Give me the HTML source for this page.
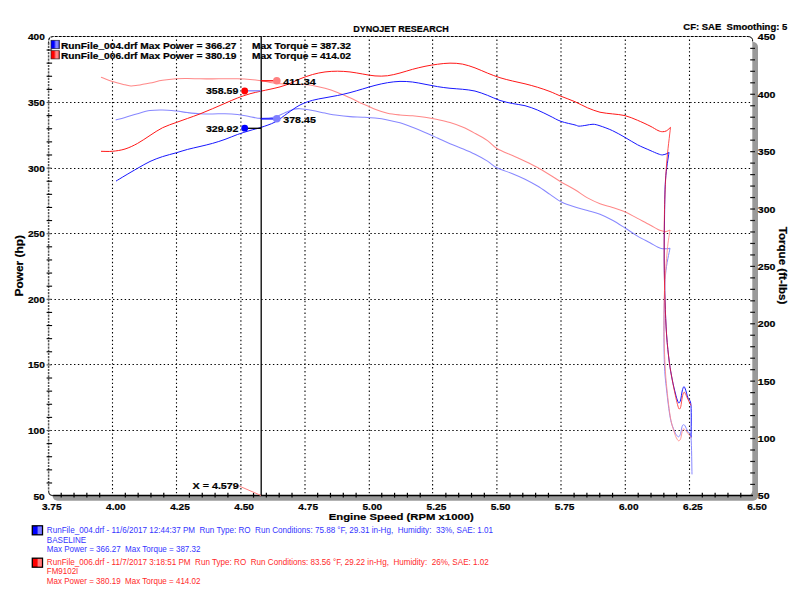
<!DOCTYPE html>
<html><head><meta charset="utf-8"><style>
html,body{margin:0;padding:0;background:#fff;width:800px;height:610px;overflow:hidden}
svg{display:block}
</style></head><body>
<svg width="800" height="610" viewBox="0 0 800 610">
<rect width="800" height="610" fill="#fff"/>
<rect x="52.6" y="42.0" width="705.4" height="458.8" rx="5" fill="#9a9a9a"/>
<rect x="48.6" y="36.5" width="703.7" height="459.1" rx="5" fill="#fff"/>
<line x1="112.50" y1="39.5" x2="112.50" y2="494.6" stroke="#000" stroke-width="1.1" stroke-dasharray="1.4 2.5"/>
<line x1="176.50" y1="39.5" x2="176.50" y2="494.6" stroke="#000" stroke-width="1.1" stroke-dasharray="1.4 2.5"/>
<line x1="240.90" y1="39.5" x2="240.90" y2="494.6" stroke="#000" stroke-width="1.1" stroke-dasharray="1.4 2.5"/>
<line x1="305.00" y1="39.5" x2="305.00" y2="494.6" stroke="#000" stroke-width="1.1" stroke-dasharray="1.4 2.5"/>
<line x1="369.30" y1="39.5" x2="369.30" y2="494.6" stroke="#000" stroke-width="1.1" stroke-dasharray="1.4 2.5"/>
<line x1="432.60" y1="39.5" x2="432.60" y2="494.6" stroke="#000" stroke-width="1.1" stroke-dasharray="1.4 2.5"/>
<line x1="496.90" y1="39.5" x2="496.90" y2="494.6" stroke="#000" stroke-width="1.1" stroke-dasharray="1.4 2.5"/>
<line x1="561.00" y1="39.5" x2="561.00" y2="494.6" stroke="#000" stroke-width="1.1" stroke-dasharray="1.4 2.5"/>
<line x1="625.30" y1="39.5" x2="625.30" y2="494.6" stroke="#000" stroke-width="1.1" stroke-dasharray="1.4 2.5"/>
<line x1="689.50" y1="39.5" x2="689.50" y2="494.6" stroke="#000" stroke-width="1.1" stroke-dasharray="1.4 2.5"/>
<line x1="50.6" y1="102.5" x2="752.0" y2="102.5" stroke="#000" stroke-width="1.1" stroke-dasharray="1.4 2.5"/>
<line x1="50.6" y1="168.5" x2="752.0" y2="168.5" stroke="#000" stroke-width="1.1" stroke-dasharray="1.4 2.5"/>
<line x1="50.6" y1="233.5" x2="752.0" y2="233.5" stroke="#000" stroke-width="1.1" stroke-dasharray="1.4 2.5"/>
<line x1="50.6" y1="299.5" x2="752.0" y2="299.5" stroke="#000" stroke-width="1.1" stroke-dasharray="1.4 2.5"/>
<line x1="50.6" y1="364.5" x2="752.0" y2="364.5" stroke="#000" stroke-width="1.1" stroke-dasharray="1.4 2.5"/>
<line x1="50.6" y1="430.5" x2="752.0" y2="430.5" stroke="#000" stroke-width="1.1" stroke-dasharray="1.4 2.5"/>
<path d="M48.6,44.5 L48.6,41.5 Q48.6,36.5 53.6,36.5 L748.0,36.5" fill="none" stroke="#000" stroke-width="1.1" stroke-dasharray="3 1"/>
<path d="M747.5,36.5 Q753.0,36.5 752.7,41.5" fill="none" stroke="#000" stroke-width="1"/>
<line x1="48.6" y1="42.5" x2="48.6" y2="491.1" stroke="#555" stroke-width="1.5" stroke-dasharray="2.2 1"/>
<path d="M48.6,491.1 Q48.6,495.6 53.1,495.6" fill="none" stroke="#333" stroke-width="1.2"/>
<line x1="53.1" y1="495.6" x2="753.0" y2="495.6" stroke="#000" stroke-width="1.5"/>
<line x1="61.21" y1="492.8" x2="61.21" y2="497.6" stroke="#000" stroke-width="1.2"/>
<line x1="74.03" y1="492.8" x2="74.03" y2="497.6" stroke="#000" stroke-width="1.2"/>
<line x1="86.86" y1="492.8" x2="86.86" y2="497.6" stroke="#000" stroke-width="1.2"/>
<line x1="99.68" y1="492.8" x2="99.68" y2="497.6" stroke="#000" stroke-width="1.2"/>
<line x1="125.32" y1="492.8" x2="125.32" y2="497.6" stroke="#000" stroke-width="1.2"/>
<line x1="138.14" y1="492.8" x2="138.14" y2="497.6" stroke="#000" stroke-width="1.2"/>
<line x1="150.97" y1="492.8" x2="150.97" y2="497.6" stroke="#000" stroke-width="1.2"/>
<line x1="163.79" y1="492.8" x2="163.79" y2="497.6" stroke="#000" stroke-width="1.2"/>
<line x1="189.43" y1="492.8" x2="189.43" y2="497.6" stroke="#000" stroke-width="1.2"/>
<line x1="202.25" y1="492.8" x2="202.25" y2="497.6" stroke="#000" stroke-width="1.2"/>
<line x1="215.08" y1="492.8" x2="215.08" y2="497.6" stroke="#000" stroke-width="1.2"/>
<line x1="227.90" y1="492.8" x2="227.90" y2="497.6" stroke="#000" stroke-width="1.2"/>
<line x1="253.54" y1="492.8" x2="253.54" y2="497.6" stroke="#000" stroke-width="1.2"/>
<line x1="266.36" y1="492.8" x2="266.36" y2="497.6" stroke="#000" stroke-width="1.2"/>
<line x1="279.19" y1="492.8" x2="279.19" y2="497.6" stroke="#000" stroke-width="1.2"/>
<line x1="292.01" y1="492.8" x2="292.01" y2="497.6" stroke="#000" stroke-width="1.2"/>
<line x1="317.65" y1="492.8" x2="317.65" y2="497.6" stroke="#000" stroke-width="1.2"/>
<line x1="330.47" y1="492.8" x2="330.47" y2="497.6" stroke="#000" stroke-width="1.2"/>
<line x1="343.30" y1="492.8" x2="343.30" y2="497.6" stroke="#000" stroke-width="1.2"/>
<line x1="356.12" y1="492.8" x2="356.12" y2="497.6" stroke="#000" stroke-width="1.2"/>
<line x1="381.76" y1="492.8" x2="381.76" y2="497.6" stroke="#000" stroke-width="1.2"/>
<line x1="394.58" y1="492.8" x2="394.58" y2="497.6" stroke="#000" stroke-width="1.2"/>
<line x1="407.41" y1="492.8" x2="407.41" y2="497.6" stroke="#000" stroke-width="1.2"/>
<line x1="420.23" y1="492.8" x2="420.23" y2="497.6" stroke="#000" stroke-width="1.2"/>
<line x1="445.87" y1="492.8" x2="445.87" y2="497.6" stroke="#000" stroke-width="1.2"/>
<line x1="458.69" y1="492.8" x2="458.69" y2="497.6" stroke="#000" stroke-width="1.2"/>
<line x1="471.52" y1="492.8" x2="471.52" y2="497.6" stroke="#000" stroke-width="1.2"/>
<line x1="484.34" y1="492.8" x2="484.34" y2="497.6" stroke="#000" stroke-width="1.2"/>
<line x1="509.98" y1="492.8" x2="509.98" y2="497.6" stroke="#000" stroke-width="1.2"/>
<line x1="522.80" y1="492.8" x2="522.80" y2="497.6" stroke="#000" stroke-width="1.2"/>
<line x1="535.63" y1="492.8" x2="535.63" y2="497.6" stroke="#000" stroke-width="1.2"/>
<line x1="548.45" y1="492.8" x2="548.45" y2="497.6" stroke="#000" stroke-width="1.2"/>
<line x1="574.09" y1="492.8" x2="574.09" y2="497.6" stroke="#000" stroke-width="1.2"/>
<line x1="586.91" y1="492.8" x2="586.91" y2="497.6" stroke="#000" stroke-width="1.2"/>
<line x1="599.74" y1="492.8" x2="599.74" y2="497.6" stroke="#000" stroke-width="1.2"/>
<line x1="612.56" y1="492.8" x2="612.56" y2="497.6" stroke="#000" stroke-width="1.2"/>
<line x1="638.20" y1="492.8" x2="638.20" y2="497.6" stroke="#000" stroke-width="1.2"/>
<line x1="651.02" y1="492.8" x2="651.02" y2="497.6" stroke="#000" stroke-width="1.2"/>
<line x1="663.85" y1="492.8" x2="663.85" y2="497.6" stroke="#000" stroke-width="1.2"/>
<line x1="676.67" y1="492.8" x2="676.67" y2="497.6" stroke="#000" stroke-width="1.2"/>
<line x1="702.31" y1="492.8" x2="702.31" y2="497.6" stroke="#000" stroke-width="1.2"/>
<line x1="715.13" y1="492.8" x2="715.13" y2="497.6" stroke="#000" stroke-width="1.2"/>
<line x1="727.96" y1="492.8" x2="727.96" y2="497.6" stroke="#000" stroke-width="1.2"/>
<line x1="740.78" y1="492.8" x2="740.78" y2="497.6" stroke="#000" stroke-width="1.2"/>
<line x1="46.6" y1="482.98" x2="52.1" y2="482.98" stroke="#000" stroke-width="1.1"/>
<line x1="46.6" y1="469.86" x2="52.1" y2="469.86" stroke="#000" stroke-width="1.1"/>
<line x1="46.6" y1="456.74" x2="52.1" y2="456.74" stroke="#000" stroke-width="1.1"/>
<line x1="46.6" y1="443.62" x2="52.1" y2="443.62" stroke="#000" stroke-width="1.1"/>
<line x1="46.6" y1="430.50" x2="51.6" y2="430.50" stroke="#555" stroke-width="1.1"/>
<line x1="46.6" y1="417.38" x2="52.1" y2="417.38" stroke="#000" stroke-width="1.1"/>
<line x1="46.6" y1="404.26" x2="52.1" y2="404.26" stroke="#000" stroke-width="1.1"/>
<line x1="46.6" y1="391.14" x2="52.1" y2="391.14" stroke="#000" stroke-width="1.1"/>
<line x1="46.6" y1="378.02" x2="52.1" y2="378.02" stroke="#000" stroke-width="1.1"/>
<line x1="46.6" y1="364.90" x2="51.6" y2="364.90" stroke="#555" stroke-width="1.1"/>
<line x1="46.6" y1="351.78" x2="52.1" y2="351.78" stroke="#000" stroke-width="1.1"/>
<line x1="46.6" y1="338.66" x2="52.1" y2="338.66" stroke="#000" stroke-width="1.1"/>
<line x1="46.6" y1="325.54" x2="52.1" y2="325.54" stroke="#000" stroke-width="1.1"/>
<line x1="46.6" y1="312.42" x2="52.1" y2="312.42" stroke="#000" stroke-width="1.1"/>
<line x1="46.6" y1="299.30" x2="51.6" y2="299.30" stroke="#555" stroke-width="1.1"/>
<line x1="46.6" y1="286.18" x2="52.1" y2="286.18" stroke="#000" stroke-width="1.1"/>
<line x1="46.6" y1="273.06" x2="52.1" y2="273.06" stroke="#000" stroke-width="1.1"/>
<line x1="46.6" y1="259.94" x2="52.1" y2="259.94" stroke="#000" stroke-width="1.1"/>
<line x1="46.6" y1="246.82" x2="52.1" y2="246.82" stroke="#000" stroke-width="1.1"/>
<line x1="46.6" y1="233.70" x2="51.6" y2="233.70" stroke="#555" stroke-width="1.1"/>
<line x1="46.6" y1="220.58" x2="52.1" y2="220.58" stroke="#000" stroke-width="1.1"/>
<line x1="46.6" y1="207.46" x2="52.1" y2="207.46" stroke="#000" stroke-width="1.1"/>
<line x1="46.6" y1="194.34" x2="52.1" y2="194.34" stroke="#000" stroke-width="1.1"/>
<line x1="46.6" y1="181.22" x2="52.1" y2="181.22" stroke="#000" stroke-width="1.1"/>
<line x1="46.6" y1="168.10" x2="51.6" y2="168.10" stroke="#555" stroke-width="1.1"/>
<line x1="46.6" y1="154.98" x2="52.1" y2="154.98" stroke="#000" stroke-width="1.1"/>
<line x1="46.6" y1="141.86" x2="52.1" y2="141.86" stroke="#000" stroke-width="1.1"/>
<line x1="46.6" y1="128.74" x2="52.1" y2="128.74" stroke="#000" stroke-width="1.1"/>
<line x1="46.6" y1="115.62" x2="52.1" y2="115.62" stroke="#000" stroke-width="1.1"/>
<line x1="46.6" y1="102.50" x2="51.6" y2="102.50" stroke="#555" stroke-width="1.1"/>
<line x1="46.6" y1="89.38" x2="52.1" y2="89.38" stroke="#000" stroke-width="1.1"/>
<line x1="46.6" y1="76.26" x2="52.1" y2="76.26" stroke="#000" stroke-width="1.1"/>
<line x1="46.6" y1="63.14" x2="52.1" y2="63.14" stroke="#000" stroke-width="1.1"/>
<line x1="46.6" y1="50.02" x2="52.1" y2="50.02" stroke="#000" stroke-width="1.1"/>
<line x1="750.2" y1="484.42" x2="755.0" y2="484.42" stroke="#1a1a1a" stroke-width="1.2"/>
<line x1="750.2" y1="472.95" x2="755.0" y2="472.95" stroke="#1a1a1a" stroke-width="1.2"/>
<line x1="750.2" y1="461.47" x2="755.0" y2="461.47" stroke="#1a1a1a" stroke-width="1.2"/>
<line x1="750.2" y1="450.00" x2="755.0" y2="450.00" stroke="#1a1a1a" stroke-width="1.2"/>
<line x1="750.2" y1="438.52" x2="755.0" y2="438.52" stroke="#1a1a1a" stroke-width="1.2"/>
<line x1="750.2" y1="427.05" x2="755.0" y2="427.05" stroke="#1a1a1a" stroke-width="1.2"/>
<line x1="750.2" y1="415.57" x2="755.0" y2="415.57" stroke="#1a1a1a" stroke-width="1.2"/>
<line x1="750.2" y1="404.10" x2="755.0" y2="404.10" stroke="#1a1a1a" stroke-width="1.2"/>
<line x1="750.2" y1="392.62" x2="755.0" y2="392.62" stroke="#1a1a1a" stroke-width="1.2"/>
<line x1="750.2" y1="381.15" x2="755.0" y2="381.15" stroke="#1a1a1a" stroke-width="1.2"/>
<line x1="750.2" y1="369.67" x2="755.0" y2="369.67" stroke="#1a1a1a" stroke-width="1.2"/>
<line x1="750.2" y1="358.20" x2="755.0" y2="358.20" stroke="#1a1a1a" stroke-width="1.2"/>
<line x1="750.2" y1="346.72" x2="755.0" y2="346.72" stroke="#1a1a1a" stroke-width="1.2"/>
<line x1="750.2" y1="335.25" x2="755.0" y2="335.25" stroke="#1a1a1a" stroke-width="1.2"/>
<line x1="750.2" y1="323.77" x2="755.0" y2="323.77" stroke="#1a1a1a" stroke-width="1.2"/>
<line x1="750.2" y1="312.30" x2="755.0" y2="312.30" stroke="#1a1a1a" stroke-width="1.2"/>
<line x1="750.2" y1="300.82" x2="755.0" y2="300.82" stroke="#1a1a1a" stroke-width="1.2"/>
<line x1="750.2" y1="289.35" x2="755.0" y2="289.35" stroke="#1a1a1a" stroke-width="1.2"/>
<line x1="750.2" y1="277.88" x2="755.0" y2="277.88" stroke="#1a1a1a" stroke-width="1.2"/>
<line x1="750.2" y1="266.40" x2="755.0" y2="266.40" stroke="#1a1a1a" stroke-width="1.2"/>
<line x1="750.2" y1="254.93" x2="755.0" y2="254.93" stroke="#1a1a1a" stroke-width="1.2"/>
<line x1="750.2" y1="243.45" x2="755.0" y2="243.45" stroke="#1a1a1a" stroke-width="1.2"/>
<line x1="750.2" y1="231.97" x2="755.0" y2="231.97" stroke="#1a1a1a" stroke-width="1.2"/>
<line x1="750.2" y1="220.50" x2="755.0" y2="220.50" stroke="#1a1a1a" stroke-width="1.2"/>
<line x1="750.2" y1="209.03" x2="755.0" y2="209.03" stroke="#1a1a1a" stroke-width="1.2"/>
<line x1="750.2" y1="197.55" x2="755.0" y2="197.55" stroke="#1a1a1a" stroke-width="1.2"/>
<line x1="750.2" y1="186.07" x2="755.0" y2="186.07" stroke="#1a1a1a" stroke-width="1.2"/>
<line x1="750.2" y1="174.60" x2="755.0" y2="174.60" stroke="#1a1a1a" stroke-width="1.2"/>
<line x1="750.2" y1="163.12" x2="755.0" y2="163.12" stroke="#1a1a1a" stroke-width="1.2"/>
<line x1="750.2" y1="151.65" x2="755.0" y2="151.65" stroke="#1a1a1a" stroke-width="1.2"/>
<line x1="750.2" y1="140.17" x2="755.0" y2="140.17" stroke="#1a1a1a" stroke-width="1.2"/>
<line x1="750.2" y1="128.70" x2="755.0" y2="128.70" stroke="#1a1a1a" stroke-width="1.2"/>
<line x1="750.2" y1="117.22" x2="755.0" y2="117.22" stroke="#1a1a1a" stroke-width="1.2"/>
<line x1="750.2" y1="105.75" x2="755.0" y2="105.75" stroke="#1a1a1a" stroke-width="1.2"/>
<line x1="750.2" y1="94.28" x2="755.0" y2="94.28" stroke="#1a1a1a" stroke-width="1.2"/>
<line x1="750.2" y1="82.80" x2="755.0" y2="82.80" stroke="#1a1a1a" stroke-width="1.2"/>
<line x1="750.2" y1="71.32" x2="755.0" y2="71.32" stroke="#1a1a1a" stroke-width="1.2"/>
<line x1="750.2" y1="59.85" x2="755.0" y2="59.85" stroke="#1a1a1a" stroke-width="1.2"/>
<line x1="750.2" y1="48.38" x2="755.0" y2="48.38" stroke="#1a1a1a" stroke-width="1.2"/>
<path d="M101.00,77.20 C102.92,77.93 108.50,80.31 112.50,81.58 C116.50,82.84 121.92,84.06 125.00,84.80 C128.08,85.54 128.92,85.94 131.00,86.03 C133.08,86.11 134.33,85.80 137.50,85.30 C140.67,84.80 145.83,83.83 150.00,83.00 C154.17,82.17 158.17,81.03 162.50,80.33 C166.83,79.62 171.83,79.09 176.00,78.80 C180.17,78.51 183.50,78.57 187.50,78.58 C191.50,78.58 195.83,78.78 200.00,78.83 C204.17,78.88 208.33,78.89 212.50,78.88 C216.67,78.86 220.83,78.76 225.00,78.75 C229.17,78.74 233.33,78.71 237.50,78.83 C241.67,78.94 246.08,79.11 250.00,79.43 C253.92,79.74 257.67,80.23 261.00,80.72 C264.33,81.22 266.83,81.90 270.00,82.40 C273.17,82.90 276.67,83.44 280.00,83.75 C283.33,84.06 286.67,84.15 290.00,84.25 C293.33,84.35 296.25,84.12 300.00,84.33 C303.75,84.53 308.33,84.79 312.50,85.45 C316.67,86.11 320.83,87.11 325.00,88.28 C329.17,89.44 333.33,90.86 337.50,92.45 C341.67,94.04 345.83,95.92 350.00,97.80 C354.17,99.67 358.33,101.80 362.50,103.70 C366.67,105.60 370.83,107.64 375.00,109.22 C379.17,110.81 383.33,112.24 387.50,113.20 C391.67,114.16 395.83,114.54 400.00,114.97 C404.17,115.41 408.33,115.42 412.50,115.80 C416.67,116.18 420.83,116.65 425.00,117.28 C429.17,117.90 433.33,118.69 437.50,119.57 C441.67,120.46 445.83,121.32 450.00,122.57 C454.17,123.82 458.33,125.28 462.50,127.08 C466.67,128.87 470.83,131.09 475.00,133.35 C479.17,135.61 483.85,138.13 487.50,140.65 C491.15,143.17 492.73,145.96 496.90,148.45 C501.07,150.94 507.82,153.46 512.50,155.60 C517.18,157.74 520.83,159.28 525.00,161.28 C529.17,163.27 533.33,165.27 537.50,167.55 C541.67,169.83 546.08,172.55 550.00,174.95 C553.92,177.35 556.83,179.48 561.00,181.95 C565.17,184.42 570.58,187.12 575.00,189.78 C579.42,192.43 583.33,195.58 587.50,197.90 C591.67,200.22 595.83,202.09 600.00,203.68 C604.17,205.26 608.33,206.07 612.50,207.43 C616.67,208.78 620.83,209.97 625.00,211.80 C629.17,213.63 633.33,216.20 637.50,218.40 C641.67,220.60 646.58,223.12 650.00,224.97 C653.42,226.82 655.92,228.50 658.00,229.50 C660.08,230.50 661.17,230.65 662.50,231.00 C663.83,231.35 664.75,231.77 666.00,231.60 C667.25,231.43 669.33,230.27 670.00,230.00" fill="none" stroke="#ff8888" stroke-width="1.05" stroke-opacity="1" stroke-linejoin="round"/>
<path d="M115.70,119.90 C117.25,119.50 121.37,118.54 125.00,117.50 C128.63,116.46 133.33,114.81 137.50,113.65 C141.67,112.49 145.83,111.14 150.00,110.53 C154.17,109.91 158.10,109.88 162.50,109.97 C166.90,110.07 172.23,110.64 176.40,111.07 C180.57,111.51 183.57,112.12 187.50,112.58 C191.43,113.03 195.83,113.54 200.00,113.77 C204.17,114.01 208.33,114.01 212.50,114.00 C216.67,113.99 220.83,113.62 225.00,113.70 C229.17,113.78 233.33,114.00 237.50,114.50 C241.67,115.00 246.08,116.05 250.00,116.70 C253.92,117.35 256.83,118.33 261.00,118.38 C265.17,118.42 271.00,117.95 275.00,117.00 C279.00,116.05 281.83,114.00 285.00,112.70 C288.17,111.40 291.50,109.84 294.00,109.18 C296.50,108.51 296.92,108.48 300.00,108.70 C303.08,108.92 308.33,109.77 312.50,110.50 C316.67,111.23 320.83,112.30 325.00,113.10 C329.17,113.90 333.33,114.74 337.50,115.33 C341.67,115.91 345.83,116.32 350.00,116.62 C354.17,116.93 358.33,116.93 362.50,117.17 C366.67,117.42 370.83,117.62 375.00,118.07 C379.17,118.53 383.33,119.10 387.50,119.90 C391.67,120.70 395.83,121.62 400.00,122.85 C404.17,124.08 408.33,125.68 412.50,127.28 C416.67,128.87 420.83,130.63 425.00,132.43 C429.17,134.22 433.33,136.14 437.50,138.03 C441.67,139.91 445.83,141.97 450.00,143.75 C454.17,145.53 458.33,146.96 462.50,148.72 C466.67,150.49 470.83,152.25 475.00,154.32 C479.17,156.40 483.85,158.91 487.50,161.15 C491.15,163.39 492.73,165.69 496.90,167.77 C501.07,169.86 507.82,171.77 512.50,173.68 C517.18,175.58 520.83,177.16 525.00,179.22 C529.17,181.29 533.33,183.56 537.50,186.07 C541.67,188.59 546.08,191.71 550.00,194.32 C553.92,196.94 556.83,199.62 561.00,201.75 C565.17,203.88 570.58,205.67 575.00,207.12 C579.42,208.58 583.33,209.32 587.50,210.50 C591.67,211.68 595.83,212.55 600.00,214.18 C604.17,215.80 608.33,217.95 612.50,220.25 C616.67,222.55 620.83,225.33 625.00,227.97 C629.17,230.62 633.33,233.63 637.50,236.10 C641.67,238.58 646.58,240.97 650.00,242.82 C653.42,244.67 655.92,246.22 658.00,247.20 C660.08,248.18 660.83,248.45 662.50,248.70 C664.17,248.95 666.75,248.78 668.00,248.70 C669.25,248.62 669.67,248.28 670.00,248.20" fill="none" stroke="#8888ff" stroke-width="1.05" stroke-opacity="1" stroke-linejoin="round"/>
<path d="M101.00,151.30 C102.92,151.30 108.50,151.65 112.50,151.28 C116.50,150.90 120.83,150.33 125.00,149.02 C129.17,147.72 133.33,145.71 137.50,143.45 C141.67,141.19 145.83,138.07 150.00,135.45 C154.17,132.83 158.10,129.92 162.50,127.75 C166.90,125.58 172.23,123.98 176.40,122.43 C180.57,120.88 183.57,119.87 187.50,118.45 C191.43,117.03 195.83,115.52 200.00,113.90 C204.17,112.28 208.33,110.49 212.50,108.72 C216.67,106.96 220.83,105.12 225.00,103.32 C229.17,101.53 233.33,99.57 237.50,97.97 C241.67,96.38 246.08,94.88 250.00,93.75 C253.92,92.62 257.67,91.92 261.00,91.17 C264.33,90.42 266.83,89.97 270.00,89.25 C273.17,88.53 276.67,87.84 280.00,86.88 C283.33,85.91 286.67,84.78 290.00,83.45 C293.33,82.12 296.25,80.36 300.00,78.88 C303.75,77.39 308.33,75.68 312.50,74.53 C316.67,73.37 320.83,72.50 325.00,71.95 C329.17,71.40 333.33,71.20 337.50,71.20 C341.67,71.20 345.83,71.49 350.00,71.95 C354.17,72.41 358.33,73.31 362.50,73.97 C366.67,74.64 370.83,75.63 375.00,75.92 C379.17,76.22 383.33,76.24 387.50,75.75 C391.67,75.26 395.83,74.07 400.00,73.00 C404.17,71.93 408.33,70.44 412.50,69.32 C416.67,68.21 420.83,67.17 425.00,66.32 C429.17,65.48 433.33,64.78 437.50,64.25 C441.67,63.72 445.83,63.17 450.00,63.15 C454.17,63.12 458.33,63.31 462.50,64.10 C466.67,64.89 470.83,66.37 475.00,67.88 C479.17,69.38 483.33,71.48 487.50,73.12 C491.67,74.77 495.83,76.41 500.00,77.72 C504.17,79.04 508.33,79.98 512.50,81.00 C516.67,82.02 520.83,82.78 525.00,83.82 C529.17,84.87 533.33,85.97 537.50,87.25 C541.67,88.53 546.08,90.03 550.00,91.53 C553.92,93.03 556.83,94.55 561.00,96.25 C565.17,97.95 570.58,99.80 575.00,101.72 C579.42,103.65 583.33,106.05 587.50,107.80 C591.67,109.55 595.83,111.21 600.00,112.23 C604.17,113.24 608.33,113.33 612.50,113.90 C616.67,114.47 620.83,114.56 625.00,115.62 C629.17,116.69 633.33,118.54 637.50,120.27 C641.67,122.01 646.58,124.32 650.00,126.03 C653.42,127.73 655.92,129.55 658.00,130.50 C660.08,131.45 661.08,131.65 662.50,131.70 C663.92,131.75 665.17,131.52 666.50,130.80 C667.83,130.08 669.83,127.97 670.50,127.40" fill="none" stroke="#ff1818" stroke-width="1.0" stroke-opacity="1" stroke-linejoin="round"/>
<path d="M116.00,181.10 C117.50,180.19 121.42,177.78 125.00,175.65 C128.58,173.53 133.33,170.71 137.50,168.35 C141.67,165.99 145.83,163.43 150.00,161.48 C154.17,159.52 158.10,158.08 162.50,156.62 C166.90,155.17 172.23,153.95 176.40,152.75 C180.57,151.55 183.57,150.47 187.50,149.43 C191.43,148.38 195.83,147.48 200.00,146.47 C204.17,145.47 208.33,144.56 212.50,143.38 C216.67,142.19 220.83,140.85 225.00,139.38 C229.17,137.90 233.33,135.98 237.50,134.50 C241.67,133.02 246.08,131.68 250.00,130.50 C253.92,129.32 256.83,128.81 261.00,127.40 C265.17,125.99 270.58,124.40 275.00,122.05 C279.42,119.70 283.33,116.12 287.50,113.28 C291.67,110.43 295.83,107.16 300.00,105.00 C304.17,102.84 308.33,101.53 312.50,100.33 C316.67,99.12 320.83,98.60 325.00,97.80 C329.17,97.00 333.33,96.36 337.50,95.50 C341.67,94.64 345.83,93.71 350.00,92.62 C354.17,91.54 358.33,90.20 362.50,89.00 C366.67,87.80 370.83,86.45 375.00,85.40 C379.17,84.35 383.33,83.37 387.50,82.70 C391.67,82.03 395.83,81.51 400.00,81.40 C404.17,81.29 408.33,81.55 412.50,82.03 C416.67,82.50 420.83,83.48 425.00,84.25 C429.17,85.02 433.33,85.95 437.50,86.62 C441.67,87.30 445.83,87.83 450.00,88.27 C454.17,88.72 458.33,88.81 462.50,89.28 C466.67,89.74 470.83,90.04 475.00,91.05 C479.17,92.06 483.33,93.75 487.50,95.32 C491.67,96.90 495.83,99.11 500.00,100.47 C504.17,101.84 508.33,102.65 512.50,103.52 C516.67,104.40 520.83,104.61 525.00,105.70 C529.17,106.79 533.33,108.33 537.50,110.05 C541.67,111.77 546.08,114.14 550.00,116.03 C553.92,117.91 556.83,119.89 561.00,121.38 C565.17,122.86 572.00,124.15 575.00,124.95 C578.00,125.75 577.17,126.09 579.00,126.15 C580.83,126.21 583.67,125.62 586.00,125.30 C588.33,124.98 590.67,124.16 593.00,124.25 C595.33,124.34 596.75,124.76 600.00,125.83 C603.25,126.89 608.33,128.72 612.50,130.65 C616.67,132.58 620.83,135.05 625.00,137.40 C629.17,139.75 633.33,142.59 637.50,144.75 C641.67,146.91 646.58,148.87 650.00,150.38 C653.42,151.88 655.92,153.05 658.00,153.80 C660.08,154.55 661.00,154.93 662.50,154.90 C664.00,154.87 665.92,154.03 667.00,153.60 C668.08,153.17 668.67,152.52 669.00,152.30" fill="none" stroke="#1818ff" stroke-width="1.0" stroke-opacity="1" stroke-linejoin="round"/>
<path d="M670.00,248.20 C669.25,252.67 666.50,263.03 665.50,275.00 C664.50,286.97 664.18,305.17 664.00,320.00 C663.82,334.83 663.97,352.33 664.40,364.00 C664.83,375.67 665.62,381.00 666.60,390.00 C667.58,399.00 669.03,411.25 670.30,418.00 C671.57,424.75 673.12,427.58 674.20,430.50 C675.28,433.42 676.02,434.47 676.80,435.50 C677.58,436.53 678.27,437.03 678.90,436.70 C679.53,436.37 680.07,435.20 680.60,433.50 C681.13,431.80 681.63,427.96 682.10,426.50 C682.57,425.04 682.92,424.87 683.40,424.75 C683.88,424.63 684.23,424.59 685.00,425.80 C685.77,427.01 687.00,430.05 688.00,432.00 C689.00,433.95 690.33,430.43 691.00,437.50 C691.67,444.57 691.83,468.25 692.00,474.40" fill="none" stroke="#8888ff" stroke-width="1.0" stroke-opacity="1" stroke-linejoin="round"/>
<path d="M669.00,152.30 C668.42,156.92 666.25,168.72 665.50,180.00 C664.75,191.28 664.72,206.67 664.50,220.00 C664.28,233.33 664.12,246.67 664.20,260.00 C664.28,273.33 664.60,287.50 665.00,300.00 C665.40,312.50 665.88,324.67 666.60,335.00 C667.32,345.33 668.35,354.50 669.30,362.00 C670.25,369.50 671.30,374.83 672.30,380.00 C673.30,385.17 674.47,389.67 675.30,393.00 C676.13,396.33 676.70,398.33 677.30,400.00 C677.90,401.67 678.35,403.00 678.90,403.00 C679.45,403.00 680.05,402.00 680.60,400.00 C681.15,398.00 681.67,393.20 682.20,391.00 C682.73,388.80 683.28,387.13 683.80,386.80 C684.32,386.47 684.60,387.13 685.30,389.00 C686.00,390.87 687.05,395.25 688.00,398.00 C688.95,400.75 690.48,398.92 691.00,405.50 C691.52,412.08 691.08,432.17 691.10,437.50" fill="none" stroke="#1818ff" stroke-width="1.0" stroke-opacity="1" stroke-linejoin="round"/>
<path d="M670.00,230.00 C669.55,233.33 668.22,240.00 667.30,250.00 C666.38,260.00 665.05,276.67 664.50,290.00 C663.95,303.33 663.92,317.67 664.00,330.00 C664.08,342.33 664.50,354.00 665.00,364.00 C665.50,374.00 666.08,381.00 667.00,390.00 C667.92,399.00 669.25,410.83 670.50,418.00 C671.75,425.17 673.42,429.50 674.50,433.00 C675.58,436.50 676.27,437.70 677.00,439.00 C677.73,440.30 678.28,440.88 678.90,440.80 C679.52,440.72 680.15,440.05 680.70,438.50 C681.25,436.95 681.75,433.08 682.20,431.50 C682.65,429.92 682.93,429.28 683.40,429.00 C683.87,428.72 684.23,429.05 685.00,429.80 C685.77,430.55 687.00,432.22 688.00,433.50 C689.00,434.78 690.50,436.83 691.00,437.50" fill="none" stroke="#ff8888" stroke-width="1.0" stroke-opacity="0.85" stroke-linejoin="round"/>
<path d="M670.50,127.40 C669.83,133.67 667.50,151.23 666.50,165.00 C665.50,178.77 664.88,194.17 664.50,210.00 C664.12,225.83 664.12,245.00 664.20,260.00 C664.28,275.00 664.60,287.50 665.00,300.00 C665.40,312.50 665.88,324.67 666.60,335.00 C667.32,345.33 668.35,354.50 669.30,362.00 C670.25,369.50 671.30,374.50 672.30,380.00 C673.30,385.50 674.43,390.92 675.30,395.00 C676.17,399.08 676.85,402.17 677.50,404.50 C678.15,406.83 678.65,408.67 679.20,409.00 C679.75,409.33 680.28,408.50 680.80,406.50 C681.32,404.50 681.80,399.33 682.30,397.00 C682.80,394.67 683.30,393.08 683.80,392.50 C684.30,391.92 684.60,392.33 685.30,393.50 C686.00,394.67 687.05,397.50 688.00,399.50 C688.95,401.50 690.50,404.50 691.00,405.50" fill="none" stroke="#ff1818" stroke-width="1.0" stroke-opacity="0.75" stroke-linejoin="round"/>
<line x1="261.2" y1="36.5" x2="261.2" y2="495.6" stroke="#000" stroke-width="1.3"/>
<line x1="238" y1="485.5" x2="261" y2="495.5" stroke="#ff8080" stroke-width="1"/>
<line x1="245" y1="90.8" x2="261" y2="90.8" stroke="#8080ff" stroke-width="1.3"/>
<line x1="245" y1="128.3" x2="261" y2="128.3" stroke="#000" stroke-width="1.3"/>
<line x1="261" y1="80.8" x2="277" y2="80.8" stroke="#ff0000" stroke-width="1.3"/>
<line x1="261" y1="118.9" x2="277" y2="118.9" stroke="#0000ff" stroke-width="1.3"/>
<circle cx="244.7" cy="91" r="3.4" fill="#ff0000"/>
<circle cx="244.7" cy="128.2" r="3.4" fill="#0000ff"/>
<circle cx="276.8" cy="80.8" r="3.8" fill="#ff8080"/>
<circle cx="276.8" cy="118.8" r="3.8" fill="#8080ff"/>
<text x="206.00" y="94.40" font-family="Liberation Sans" font-weight="bold" font-size="9.8" fill="#000" stroke="#000" stroke-width="0.2" text-anchor="start" textLength="32.3" lengthAdjust="spacingAndGlyphs" >358.59</text>
<text x="206.00" y="132.40" font-family="Liberation Sans" font-weight="bold" font-size="9.8" fill="#000" stroke="#000" stroke-width="0.2" text-anchor="start" textLength="32.3" lengthAdjust="spacingAndGlyphs" >329.92</text>
<text x="283.30" y="85.00" font-family="Liberation Sans" font-weight="bold" font-size="9.8" fill="#000" stroke="#000" stroke-width="0.2" text-anchor="start" textLength="32.5" lengthAdjust="spacingAndGlyphs" >411.34</text>
<text x="283.30" y="122.80" font-family="Liberation Sans" font-weight="bold" font-size="9.8" fill="#000" stroke="#000" stroke-width="0.2" text-anchor="start" textLength="32.5" lengthAdjust="spacingAndGlyphs" >378.45</text>
<text x="192.50" y="488.60" font-family="Liberation Sans" font-weight="bold" font-size="9.5" fill="#000" stroke="#000" stroke-width="0.2" text-anchor="start" textLength="46.3" lengthAdjust="spacingAndGlyphs" >X = 4.579</text>
<text x="353.30" y="32.20" font-family="Liberation Sans" font-weight="bold" font-size="9.4" fill="#000" stroke="#000" stroke-width="0.2" text-anchor="start" textLength="95.5" lengthAdjust="spacingAndGlyphs" >DYNOJET RESEARCH</text>
<text x="683.30" y="30.10" font-family="Liberation Sans" font-weight="bold" font-size="9.2" fill="#000" stroke="#000" stroke-width="0.2" text-anchor="start" textLength="104.0" lengthAdjust="spacingAndGlyphs" >CF: SAE&#160;&#160;Smoothing: 5</text>
<defs><linearGradient id="gb" x1="0" x2="1" y1="0" y2="0"><stop offset="0" stop-color="#0000ff"/><stop offset="0.35" stop-color="#0000ff"/><stop offset="0.6" stop-color="#8c8cff"/><stop offset="0.8" stop-color="#8080ff"/><stop offset="1" stop-color="#2020a0"/></linearGradient><linearGradient id="gr" x1="0" x2="1" y1="0" y2="0"><stop offset="0" stop-color="#ff0000"/><stop offset="0.35" stop-color="#ff0000"/><stop offset="0.6" stop-color="#ff8c8c"/><stop offset="0.8" stop-color="#ff8080"/><stop offset="1" stop-color="#a02020"/></linearGradient></defs>
<rect x="51" y="40.3" width="8.4" height="8.4" fill="url(#gb)" stroke="#223" stroke-width="0.7"/>
<rect x="51" y="50.7" width="8.4" height="8.2" fill="url(#gr)" stroke="#322" stroke-width="0.7"/>
<text x="61.00" y="49.10" font-family="Liberation Sans" font-weight="bold" font-size="9" fill="#000" stroke="#000" stroke-width="0.2" text-anchor="start" textLength="175.4" lengthAdjust="spacingAndGlyphs" >RunFile_004.drf Max Power = 366.27</text>
<text x="252.00" y="49.10" font-family="Liberation Sans" font-weight="bold" font-size="9" fill="#000" stroke="#000" stroke-width="0.2" text-anchor="start" textLength="99.0" lengthAdjust="spacingAndGlyphs" >Max Torque = 387.32</text>
<text x="61.00" y="58.70" font-family="Liberation Sans" font-weight="bold" font-size="9" fill="#000" stroke="#000" stroke-width="0.2" text-anchor="start" textLength="175.4" lengthAdjust="spacingAndGlyphs" >RunFile_006.drf Max Power = 380.19</text>
<text x="252.00" y="58.70" font-family="Liberation Sans" font-weight="bold" font-size="9" fill="#000" stroke="#000" stroke-width="0.2" text-anchor="start" textLength="99.0" lengthAdjust="spacingAndGlyphs" >Max Torque = 414.02</text>
<text x="44.80" y="499.60" font-family="Liberation Sans" font-weight="bold" font-size="9.5" fill="#000" stroke="#000" stroke-width="0.2" text-anchor="end" textLength="11.4" lengthAdjust="spacingAndGlyphs" >50</text>
<text x="44.80" y="434.00" font-family="Liberation Sans" font-weight="bold" font-size="9.5" fill="#000" stroke="#000" stroke-width="0.2" text-anchor="end" textLength="16.9" lengthAdjust="spacingAndGlyphs" >100</text>
<text x="44.80" y="368.40" font-family="Liberation Sans" font-weight="bold" font-size="9.5" fill="#000" stroke="#000" stroke-width="0.2" text-anchor="end" textLength="16.9" lengthAdjust="spacingAndGlyphs" >150</text>
<text x="44.80" y="302.80" font-family="Liberation Sans" font-weight="bold" font-size="9.5" fill="#000" stroke="#000" stroke-width="0.2" text-anchor="end" textLength="16.9" lengthAdjust="spacingAndGlyphs" >200</text>
<text x="44.80" y="237.20" font-family="Liberation Sans" font-weight="bold" font-size="9.5" fill="#000" stroke="#000" stroke-width="0.2" text-anchor="end" textLength="16.9" lengthAdjust="spacingAndGlyphs" >250</text>
<text x="44.80" y="171.60" font-family="Liberation Sans" font-weight="bold" font-size="9.5" fill="#000" stroke="#000" stroke-width="0.2" text-anchor="end" textLength="16.9" lengthAdjust="spacingAndGlyphs" >300</text>
<text x="44.80" y="106.00" font-family="Liberation Sans" font-weight="bold" font-size="9.5" fill="#000" stroke="#000" stroke-width="0.2" text-anchor="end" textLength="16.9" lengthAdjust="spacingAndGlyphs" >350</text>
<text x="44.80" y="40.40" font-family="Liberation Sans" font-weight="bold" font-size="9.5" fill="#000" stroke="#000" stroke-width="0.2" text-anchor="end" textLength="16.9" lengthAdjust="spacingAndGlyphs" >400</text>
<text x="757.80" y="499.40" font-family="Liberation Sans" font-weight="bold" font-size="9.5" fill="#000" stroke="#000" stroke-width="0.2" text-anchor="start" textLength="11.8" lengthAdjust="spacingAndGlyphs" >50</text>
<text x="757.80" y="442.02" font-family="Liberation Sans" font-weight="bold" font-size="9.5" fill="#000" stroke="#000" stroke-width="0.2" text-anchor="start" textLength="17.6" lengthAdjust="spacingAndGlyphs" >100</text>
<text x="757.80" y="384.65" font-family="Liberation Sans" font-weight="bold" font-size="9.5" fill="#000" stroke="#000" stroke-width="0.2" text-anchor="start" textLength="17.6" lengthAdjust="spacingAndGlyphs" >150</text>
<text x="757.80" y="327.27" font-family="Liberation Sans" font-weight="bold" font-size="9.5" fill="#000" stroke="#000" stroke-width="0.2" text-anchor="start" textLength="17.6" lengthAdjust="spacingAndGlyphs" >200</text>
<text x="757.80" y="269.90" font-family="Liberation Sans" font-weight="bold" font-size="9.5" fill="#000" stroke="#000" stroke-width="0.2" text-anchor="start" textLength="17.6" lengthAdjust="spacingAndGlyphs" >250</text>
<text x="757.80" y="212.53" font-family="Liberation Sans" font-weight="bold" font-size="9.5" fill="#000" stroke="#000" stroke-width="0.2" text-anchor="start" textLength="17.6" lengthAdjust="spacingAndGlyphs" >300</text>
<text x="757.80" y="155.15" font-family="Liberation Sans" font-weight="bold" font-size="9.5" fill="#000" stroke="#000" stroke-width="0.2" text-anchor="start" textLength="17.6" lengthAdjust="spacingAndGlyphs" >350</text>
<text x="757.80" y="97.78" font-family="Liberation Sans" font-weight="bold" font-size="9.5" fill="#000" stroke="#000" stroke-width="0.2" text-anchor="start" textLength="17.6" lengthAdjust="spacingAndGlyphs" >400</text>
<text x="757.80" y="40.40" font-family="Liberation Sans" font-weight="bold" font-size="9.5" fill="#000" stroke="#000" stroke-width="0.2" text-anchor="start" textLength="17.6" lengthAdjust="spacingAndGlyphs" >450</text>
<text x="51.79" y="510.00" font-family="Liberation Sans" font-weight="bold" font-size="9.5" fill="#000" stroke="#000" stroke-width="0.2" text-anchor="middle" textLength="19.7" lengthAdjust="spacingAndGlyphs" >3.75</text>
<text x="115.90" y="510.00" font-family="Liberation Sans" font-weight="bold" font-size="9.5" fill="#000" stroke="#000" stroke-width="0.2" text-anchor="middle" textLength="19.7" lengthAdjust="spacingAndGlyphs" >4.00</text>
<text x="180.01" y="510.00" font-family="Liberation Sans" font-weight="bold" font-size="9.5" fill="#000" stroke="#000" stroke-width="0.2" text-anchor="middle" textLength="19.7" lengthAdjust="spacingAndGlyphs" >4.25</text>
<text x="244.12" y="510.00" font-family="Liberation Sans" font-weight="bold" font-size="9.5" fill="#000" stroke="#000" stroke-width="0.2" text-anchor="middle" textLength="19.7" lengthAdjust="spacingAndGlyphs" >4.50</text>
<text x="308.23" y="510.00" font-family="Liberation Sans" font-weight="bold" font-size="9.5" fill="#000" stroke="#000" stroke-width="0.2" text-anchor="middle" textLength="19.7" lengthAdjust="spacingAndGlyphs" >4.75</text>
<text x="372.34" y="510.00" font-family="Liberation Sans" font-weight="bold" font-size="9.5" fill="#000" stroke="#000" stroke-width="0.2" text-anchor="middle" textLength="19.7" lengthAdjust="spacingAndGlyphs" >5.00</text>
<text x="436.45" y="510.00" font-family="Liberation Sans" font-weight="bold" font-size="9.5" fill="#000" stroke="#000" stroke-width="0.2" text-anchor="middle" textLength="19.7" lengthAdjust="spacingAndGlyphs" >5.25</text>
<text x="500.56" y="510.00" font-family="Liberation Sans" font-weight="bold" font-size="9.5" fill="#000" stroke="#000" stroke-width="0.2" text-anchor="middle" textLength="19.7" lengthAdjust="spacingAndGlyphs" >5.50</text>
<text x="564.67" y="510.00" font-family="Liberation Sans" font-weight="bold" font-size="9.5" fill="#000" stroke="#000" stroke-width="0.2" text-anchor="middle" textLength="19.7" lengthAdjust="spacingAndGlyphs" >5.75</text>
<text x="628.78" y="510.00" font-family="Liberation Sans" font-weight="bold" font-size="9.5" fill="#000" stroke="#000" stroke-width="0.2" text-anchor="middle" textLength="19.7" lengthAdjust="spacingAndGlyphs" >6.00</text>
<text x="692.89" y="510.00" font-family="Liberation Sans" font-weight="bold" font-size="9.5" fill="#000" stroke="#000" stroke-width="0.2" text-anchor="middle" textLength="19.7" lengthAdjust="spacingAndGlyphs" >6.25</text>
<text x="757.00" y="510.00" font-family="Liberation Sans" font-weight="bold" font-size="9.5" fill="#000" stroke="#000" stroke-width="0.2" text-anchor="middle" textLength="19.7" lengthAdjust="spacingAndGlyphs" >6.50</text>
<text x="401.25" y="520.10" font-family="Liberation Sans" font-weight="bold" font-size="9.5" fill="#000" stroke="#000" stroke-width="0.2" text-anchor="middle" textLength="145.0" lengthAdjust="spacingAndGlyphs" >Engine Speed (RPM x1000)</text>
<text transform="translate(23.2,265.8) rotate(-90)" x="0" y="0" font-family="Liberation Sans" font-weight="bold" font-size="10.5" stroke="#000" stroke-width="0.2" text-anchor="middle" textLength="61.5" lengthAdjust="spacingAndGlyphs">Power (hp)</text>
<text transform="translate(778.9,265.5) rotate(90)" x="0" y="0" font-family="Liberation Sans" font-weight="bold" font-size="10.5" stroke="#000" stroke-width="0.2" text-anchor="middle" textLength="77.7" lengthAdjust="spacingAndGlyphs">Torque (ft-lbs)</text>
<rect x="32.3" y="525.8" width="10.2" height="9" fill="#0000ff" stroke="#000" stroke-width="1.3"/>
<rect x="37.6" y="526.5" width="4.2" height="7.6" fill="#8080ff"/>
<rect x="32.3" y="558.2" width="10.2" height="9" fill="#ff0000" stroke="#000" stroke-width="1.3"/>
<rect x="37.6" y="558.9" width="4.2" height="7.6" fill="#ff8080"/>
<text x="46.80" y="532.80" font-family="Liberation Sans" font-size="9" fill="#3535ff" text-anchor="start" textLength="446.2" lengthAdjust="spacingAndGlyphs" >RunFile_004.drf - 11/6/2017 12:44:37 PM&#160;&#160;Run Type: RO&#160;&#160;Run Conditions: 75.88 &#176;F, 29.31 in-Hg,&#160;&#160;Humidity:&#160;&#160;33%, SAE: 1.01</text>
<text x="46.80" y="542.50" font-family="Liberation Sans" font-size="9" fill="#3535ff" text-anchor="start" textLength="39.4" lengthAdjust="spacingAndGlyphs" >BASELINE</text>
<text x="46.80" y="551.50" font-family="Liberation Sans" font-size="9" fill="#3535ff" text-anchor="start" textLength="153.7" lengthAdjust="spacingAndGlyphs" >Max Power = 366.27&#160;&#160;Max Torque = 387.32</text>
<text x="46.80" y="564.70" font-family="Liberation Sans" font-size="9" fill="#ff2a2a" text-anchor="start" textLength="442.0" lengthAdjust="spacingAndGlyphs" >RunFile_006.drf - 11/7/2017 3:18:51 PM&#160;&#160;Run Type: RO&#160;&#160;Run Conditions: 83.56 &#176;F, 29.22 in-Hg,&#160;&#160;Humidity:&#160;&#160;26%, SAE: 1.02</text>
<text x="46.80" y="574.30" font-family="Liberation Sans" font-size="9" fill="#ff2a2a" text-anchor="start" textLength="31.5" lengthAdjust="spacingAndGlyphs" >FM9102I</text>
<text x="46.80" y="583.80" font-family="Liberation Sans" font-size="9" fill="#ff2a2a" text-anchor="start" textLength="153.7" lengthAdjust="spacingAndGlyphs" >Max Power = 380.19&#160;&#160;Max Torque = 414.02</text>
</svg></body></html>
